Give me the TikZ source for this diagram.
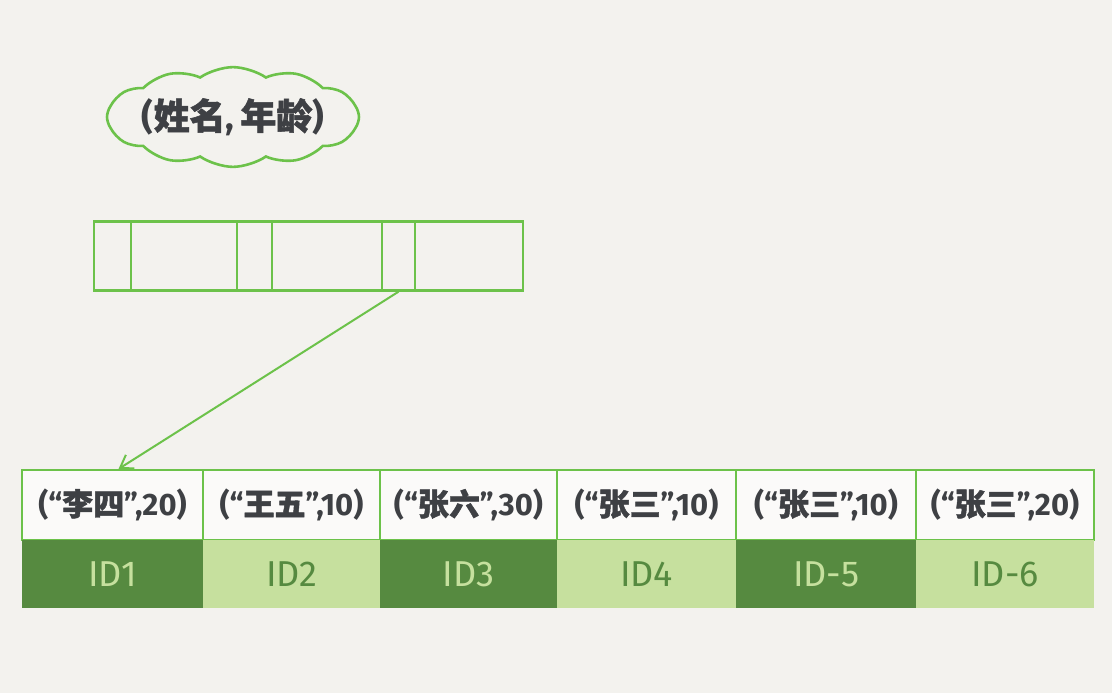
\documentclass[tikz,border=0pt]{standalone}
\usepackage{fontspec}
\setmainfont{Fira Sans}
\newfontfamily\cjk[FakeBold=1.5]{Noto Sans CJK SC}
\usetikzlibrary{shapes.symbols,arrows.meta}
\definecolor{sfondo}{HTML}{F3F2EE}
\definecolor{verde}{HTML}{6CC24A}
\definecolor{scuro}{HTML}{568A40}
\definecolor{chiaro}{HTML}{C6E09E}
\definecolor{inchiostro}{HTML}{3E4044}
\begin{document}
\begin{tikzpicture}[x=1pt, y=-1pt]
	% Stili
	\tikzset{
		cella/.style={draw=verde, line width=2.4pt, minimum width=#1, minimum height=69pt, inner sep=0pt},
		record/.style={draw=verde, line width=2pt, fill=white!65!sfondo, minimum width=#1, minimum height=70pt,
			inner sep=0pt, text=inchiostro, font=\fontsize{31}{35}\selectfont\bfseries},
		idscuro/.style={fill=scuro, minimum width=#1, minimum height=68pt, inner sep=0pt, text=chiaro,
			font=\fontsize{36}{40}\selectfont},
		idchiaro/.style={idscuro=#1, fill=chiaro, text=scuro}
	}
	
	% Sfondo e margini
	\fill[sfondo] (0,0) rectangle (1112,693);
	\useasboundingbox (0,0) rectangle (1112,693);
	
	% Nuvola dell'indice
	\node[cloud, draw=verde, line width=2.6pt, cloud puffs=12, cloud puff arc=70, aspect=2.9,
		minimum width=252pt, minimum height=86pt, inner sep=-6pt, text=inchiostro,
		font=\fontsize{36}{40}\selectfont\bfseries] (nuvola) at (233,117) {({\cjk 姓名},\,{\cjk 年龄})};
	
	% Pagina dell'indice
	\node[cella=37pt]  (k1) at (112.5,256) {};
	\node[cella=106pt] (k2) at (184,256)   {};
	\node[cella=35pt]  (k3) at (254.5,256) {};
	\node[cella=110pt] (k4) at (327,256)   {};
	\node[cella=33pt]  (k5) at (398.5,256) {};
	\node[cella=108pt] (k6) at (469,256)   {};
	
	% Record foglia
	\node[record=181pt] (r1) at (112.5,505) {(“{\cjk 李四}”,20)};
	\node[record=177pt] (r2) at (291.5,505) {(“{\cjk 王五}”,10)};
	\node[record=177pt] (r3) at (468.5,505) {(“{\cjk 张六}”,30)};
	\node[record=179pt] (r4) at (646.5,505) {(“{\cjk 张三}”,10)};
	\node[record=180pt] (r5) at (826,505)   {(“{\cjk 张三}”,10)};
	\node[record=178pt] (r6) at (1005,505)  {(“{\cjk 张三}”,20)};
	
	% Chiavi primarie
	\node[idscuro=181pt]  (i1) at (112.5,574) {ID1};
	\node[idchiaro=177pt] (i2) at (291.5,574) {ID2};
	\node[idscuro=177pt]  (i3) at (468.5,574) {ID3};
	\node[idchiaro=179pt] (i4) at (646.5,574) {ID4};
	\node[idscuro=180pt]  (i5) at (826,574)   {ID-5};
	\node[idchiaro=178pt] (i6) at (1005,574)  {ID-6};
	
	% Puntatore
	\draw[-{Straight Barb[length=12pt, width=16pt]}, verde, line width=2pt] (k5.south) -- ([xshift=6pt]r1.north);
\end{tikzpicture}
\end{document}
